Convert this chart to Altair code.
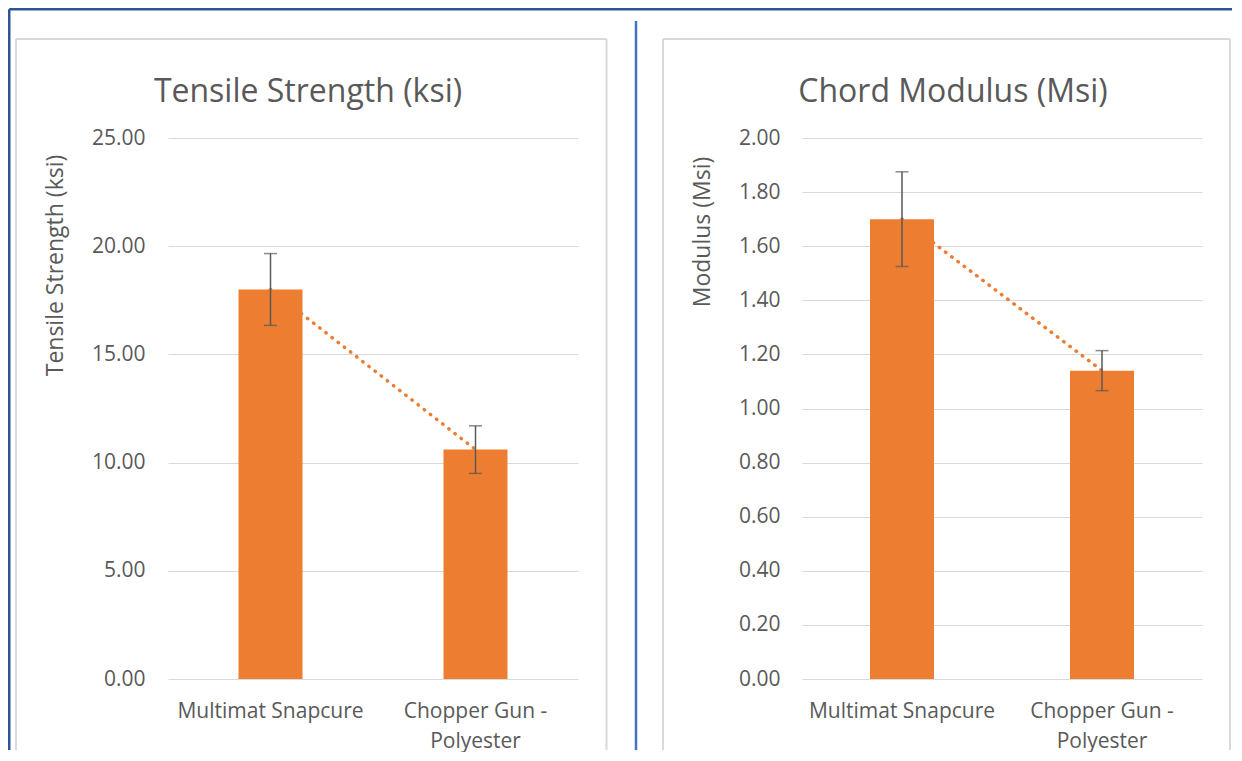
import altair as alt
import pandas as pd

# ---- data ----
categories = ["Multimat Snapcure", "Chopper Gun - Polyester"]
tensile_values = [18.0, 10.6]
tensile_errors = [1.66, 1.10]
modulus_values = [1.70, 1.14]
modulus_errors = [0.175, 0.074]
tensile_ticks = [0, 5, 10, 15, 20, 25]
modulus_ticks = [0.0, 0.2, 0.4, 0.6, 0.8, 1.0, 1.2, 1.4, 1.6, 1.8, 2.0]

FONT = "Open Sans"
TEXT = "#595959"
GRID = "#D9D9D9"
ORANGE = "#ED7D31"
ERR = "#595959"
DARKBLUE = "#2F5597"
BLUE = "#4472C4"

one = pd.DataFrame({"k": [0]})


def vrule(x, y1, y2, color, w):
    return alt.Chart(one).mark_rule(color=color, strokeWidth=w).encode(
        x=alt.value(x), y=alt.value(y1), y2=alt.value(y2))


def hrule(x1, x2, y, color, w):
    return alt.Chart(one).mark_rule(color=color, strokeWidth=w).encode(
        x=alt.value(x1), x2=alt.value(x2), y=alt.value(y))


def make_df(values, errors):
    return pd.DataFrame({
        "cat": categories,
        "value": values,
        "lo": [v - e for v, e in zip(values, errors)],
        "hi": [v + e for v, e in zip(values, errors)],
    })


def panel(df, title, ytitle, ymax, ticks, width, height, title_dx,
          ytitle_x, ytitle_y, ylabel_pad, deco):
    xenc = alt.X(
        "cat:N", sort=categories,
        scale=alt.Scale(paddingInner=0.5, paddingOuter=0.25),
        axis=alt.Axis(title=None, labelAngle=0, domain=False, ticks=False,
                      labelFont=FONT, labelFontSize=21, labelColor=TEXT,
                      labelPadding=21, labelLineHeight=30, labelLimit=400,
                      labelExpr="split(replace(datum.label, ' - ', ' -|'), '|')"))
    yscale = alt.Scale(domain=[0, ymax], nice=False, zero=True)
    yaxis = alt.Axis(values=ticks, format=".2f", grid=True, gridColor=GRID,
                     gridWidth=1, domain=False, ticks=False,
                     labelFont=FONT, labelFontSize=21, labelColor=TEXT,
                     labelPadding=ylabel_pad,
                     title=ytitle, titleFont=FONT, titleFontSize=23,
                     titleFontWeight="normal", titleColor=TEXT,
                     titleAngle=270, titleX=ytitle_x, titleY=ytitle_y,
                     titleAlign="center", titleBaseline="middle")
    yval = alt.Y("value:Q", scale=yscale, axis=yaxis)
    ylo = alt.Y("lo:Q", scale=yscale, axis=yaxis)
    yhi = alt.Y("hi:Q", scale=yscale, axis=yaxis)
    base = alt.Chart(df)
    trend = base.mark_line(color=ORANGE, strokeDash=[0.5, 7.3], strokeCap="round",
                           strokeWidth=3.5).encode(x=xenc, y=yval)
    bars = base.mark_bar(color=ORANGE, size=64).encode(x=xenc, y=yval)
    err = base.mark_rule(color=ERR, strokeWidth=1.5).encode(
        x=xenc, y=ylo, y2="hi:Q")
    cap_hi = base.mark_tick(color=ERR, thickness=1.5, size=13).encode(x=xenc, y=yhi)
    cap_lo = base.mark_tick(color=ERR, thickness=1.5, size=13).encode(x=xenc, y=ylo)
    return alt.layer(trend, bars, err, cap_hi, cap_lo, *deco).properties(
        width=width, height=height,
        title=alt.TitleParams(title, font=FONT, fontSize=32, fontWeight="normal",
                              color=TEXT, anchor="middle", frame="group",
                              baseline="alphabetic", dx=title_dx, offset=-126))


H = 541
BOTTOM = 612

left_deco = [
    vrule(-158.75, -128.75, BOTTOM, DARKBLUE, 2.5),
    hrule(-158.75, 468, -128.75, DARKBLUE, 2.5),
    vrule(468, -117, BOTTOM, BLUE, 2.5),
    vrule(-152, -99, BOTTOM, GRID, 2),
    hrule(-152, 438.5, -99, GRID, 2),
    vrule(438.5, -99, BOTTOM, GRID, 2),
]
right_deco = [
    hrule(-166, 430, -128.75, DARKBLUE, 2.5),
    vrule(-139, -99, BOTTOM, GRID, 2),
    hrule(-139, 428, -99, GRID, 2),
    vrule(428, -99, BOTTOM, GRID, 2),
]

left = panel(make_df(tensile_values, tensile_errors), "Tensile Strength (ksi)",
             "Tensile Strength (ksi)", 25, tensile_ticks, 410, H, -65,
             -113, 127, 23, left_deco)
right = panel(make_df(modulus_values, modulus_errors), "Chord Modulus (Msi)",
              "Modulus (Msi)", 2, modulus_ticks, 400, H, -49,
              -100, 93.5, 22, right_deco)

chart = alt.hconcat(left, right, spacing=224, bounds="flush").properties(
    padding=0).configure_view(stroke=None)

chart.save("out.html", embed_options={"renderer": "svg", "actions": False})
